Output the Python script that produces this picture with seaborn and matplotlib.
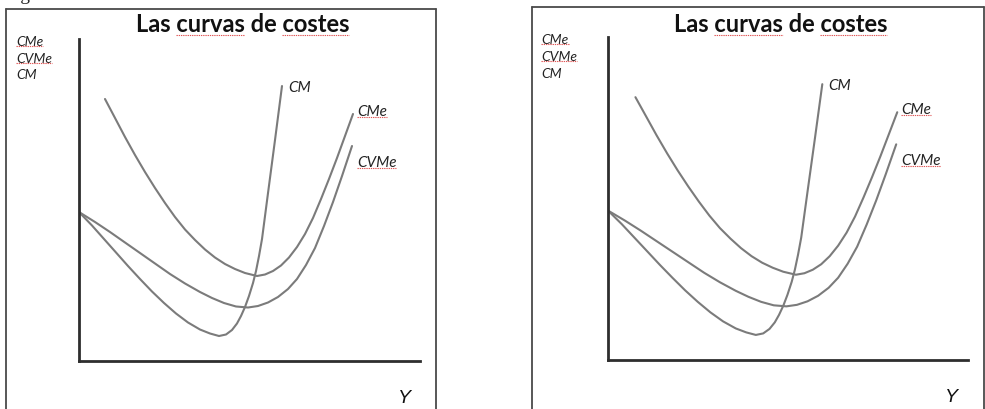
import pandas
import seaborn
import matplotlib.pyplot as plot
from matplotlib.lines import Line2D

# curve points (Y = quantity, coste = cost), both axes run 0..100
q_cme = [7.62, 10.56, 13.49, 16.42, 19.35, 22.29, 25.22, 28.15, 31.09, 34.02, 36.95, 39.88, 42.82,
         45.75, 48.68, 52.20, 54.55, 56.89, 59.24, 61.58, 63.93, 66.28, 68.62, 70.97, 73.31, 75.66,
         78.01, 80.35]
c_cme = [81.37, 75.47, 69.57, 63.98, 58.70, 53.73, 49.07, 44.72, 40.84, 37.58, 34.63, 32.14, 30.12,
         28.57, 27.33, 26.40, 26.86, 27.95, 29.66, 32.14, 35.40, 39.44, 44.41, 50.31, 56.52, 63.04,
         69.88, 76.71]

q_cvme = [0.0, 4.69, 9.09, 13.49, 17.89, 22.29, 26.69, 31.09, 35.48, 39.00, 42.52, 46.04, 49.56,
          52.49, 55.43, 58.36, 61.29, 63.93, 66.57, 69.21, 71.85, 74.49, 77.13, 80.06]
c_cvme = [46.27, 43.17, 40.06, 36.80, 33.54, 30.28, 27.02, 24.07, 21.43, 19.57, 18.01, 16.93, 16.61,
          17.08, 18.17, 19.88, 22.36, 25.47, 29.81, 35.09, 41.93, 49.38, 57.45, 66.77]

q_cm = [0.0, 3.81, 7.33, 10.85, 14.37, 17.89, 21.41, 24.93, 28.45, 31.96, 35.48, 38.42, 41.06, 43.11,
        44.87, 46.33, 47.51, 48.68, 49.85, 51.03, 51.91, 52.79, 53.67, 55.43, 57.48, 59.53]
c_cm = [46.27, 42.08, 37.89, 33.70, 29.50, 25.47, 21.58, 18.01, 14.75, 11.96, 9.78, 8.54, 7.76, 8.23,
        9.63, 11.65, 13.98, 16.77, 20.19, 24.22, 27.95, 32.61, 37.89, 52.17, 68.63, 85.40]

curve_names = ["CMe", "CVMe", "CM"]
curve_label_pos = {"CM": (61.3, 85.1), "CMe": (81.5, 77.6), "CVMe": (81.5, 61.8)}
y_axis_labels = ["CMe", "CVMe", "CM"]
x_axis_label = "Y"
title = "Las curvas de costes"
misspelled = ["curvas", "costes", "CMe", "CVMe"]

df = pandas.concat([
    pandas.DataFrame({"Y": q_cme, "coste": c_cme, "curva": "CMe"}),
    pandas.DataFrame({"Y": q_cvme, "coste": c_cvme, "curva": "CVMe"}),
    pandas.DataFrame({"Y": q_cm, "coste": c_cm, "curva": "CM"}),
])

seaborn.set_style("white")
plot.rcParams['font.family'] = ['Lato', 'DejaVu Sans']

W, H = 985, 410
fig = plot.figure(figsize=(W / 100, H / 100), dpi=100)

# pixel layout of the two (identical) panels
panels = [
    {"box": (6, 436, 10), "axes": (79, 420, 40, 362)},
    {"box": (532, 984, 8), "axes": (608, 968, 38, 361)},
]

# caption of the page, cut off at the top edge (only the descender of the g shows)
fig.text(4 / W, 1.0, "Figura", family="Liberation Serif", fontsize=14, va="baseline", ha="left")

texts_to_mark = []
for p in panels:
    bl, br, bt = p["box"]
    for xs, ys in [([bl, bl], [bt, H]), ([br, br], [bt, H]), ([bl, br], [bt, bt])]:
        fig.add_artist(Line2D([x / W for x in xs], [1 - y / H for y in ys], color="#4a4a4a", lw=1.3))

    x0, x1, y0, y1 = p["axes"]
    ax = fig.add_axes([x0 / W, 1 - y1 / H, (x1 - x0) / W, (y1 - y0) / H])
    seaborn.lineplot(data=df, x="Y", y="coste", hue="curva", units="curva", estimator=None, sort=False,
                     palette={n: "#7b7b7b" for n in curve_names}, lw=1.5, legend=False, ax=ax,
                     solid_joinstyle="round", solid_capstyle="round")
    ax.set_xlim(0, 100)
    ax.set_ylim(0, 100)
    ax.set(xlabel="", ylabel="", xticks=[], yticks=[])
    ax.patch.set_alpha(0)
    for s in ["top", "right"]:
        ax.spines[s].set_visible(False)
    for s in ["left", "bottom"]:
        ax.spines[s].set_color("#2e2e2e")
        ax.spines[s].set_linewidth(2.0)

    for name in curve_names:
        lx, ly = curve_label_pos[name]
        t = ax.text(lx, ly, name, style="italic", fontsize=11, color="#222222", ha="left", va="center")
        texts_to_mark.append((t, name))

    for i, lab in enumerate(y_axis_labels):
        t = ax.text(-0.185, 0.994 - i * 0.052, lab, transform=ax.transAxes, style="italic",
                    fontsize=10, color="#222222", ha="left", va="center")
        texts_to_mark.append((t, lab))

    ax.text(0.955, -0.112, x_axis_label, transform=ax.transAxes, family="Liberation Sans",
            style="italic", fontsize=14, ha="center", va="center", color="#111111")

    tt = ax.text(0.479, 1 + (y0 - 25) / (y1 - y0), title, transform=ax.transAxes, fontweight="bold",
                 fontsize=17, ha="center", va="center", color="#111111")
    texts_to_mark.append((tt, title))

# red spell-check underlines below the flagged words
fig.canvas.draw()
renderer = fig.canvas.get_renderer()


def text_width(s, props):
    tmp = fig.text(0, 0, s, fontproperties=props)
    w = tmp.get_window_extent(renderer).width
    tmp.remove()
    return w


for t, s in texts_to_mark:
    bb = t.get_window_extent(renderer)
    props = t.get_fontproperties()
    for word in misspelled:
        if s in ["CM", "CMe", "CVMe"] and word != s:
            continue
        i = s.find(word)
        if i < 0:
            continue
        end = text_width(s[:i + len(word)], props)
        start = end - text_width(word, props)
        yline = bb.y0 + 1.0
        fig.add_artist(Line2D([(bb.x0 + start) / W, (bb.x0 + end) / W], [yline / H, yline / H],
                              color="#e05555", lw=0.8, ls=(0, (1.2, 0.8))))

fig.savefig("out.png", dpi=100)
